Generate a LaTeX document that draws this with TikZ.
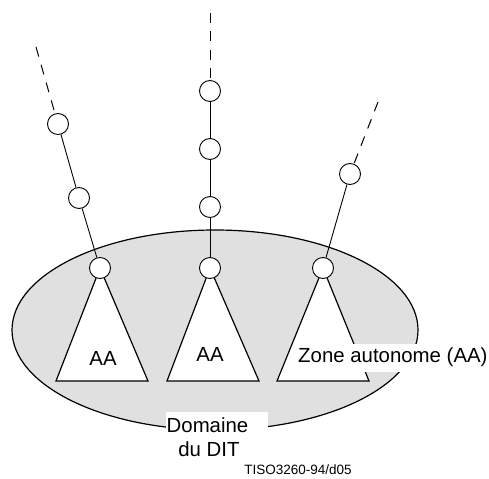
\documentclass[tikz,border=0pt]{standalone}
\usepackage{fontspec}
\setmainfont{Liberation Sans}
\definecolor{domainfill}{gray}{0.88}
\begin{document}
\begin{tikzpicture}[x=1bp,y=-1bp,
  vertex/.style={circle,draw,fill=white,line width=0.9bp,minimum size=21bp,inner sep=0pt},
  link/.style={line width=0.9bp},
  open/.style={line width=1bp,dash pattern=on 10bp off 8.5bp},
  area/.style={draw,fill=white,line width=1.2bp,line join=miter},
  lbl/.style={font=\fontsize{20.4bp}{24bp}\selectfont,inner sep=0pt}]
\useasboundingbox (0,0) rectangle (489,479);

% DIT domain
\draw[fill=domainfill,line width=1.2bp] (215,330) ellipse [x radius=203, y radius=100];

% loose ends of the three branches
\coordinate (a0) at (36,47);
\coordinate (b0) at (210,13);
\coordinate (c0) at (378,102);

% autonomous areas (triangles under their root vertices)
\filldraw[area] (100,268) -- (56,381) -- (148,381) -- cycle;
\filldraw[area] (210,268) -- (167,381) -- (259,381) -- cycle;
\filldraw[area] (323,268) -- (277,381) -- (369,381) -- cycle;

% vertices
\node[vertex] (a1) at (58,124) {};
\node[vertex] (a2) at (79,198) {};
\node[vertex] (a3) at (100,268) {};
\node[vertex] (b1) at (210,91) {};
\node[vertex] (b2) at (210,149) {};
\node[vertex] (b3) at (210,207) {};
\node[vertex] (b4) at (210,268) {};
\node[vertex] (c1) at (350,174) {};
\node[vertex] (c2) at (323,268) {};

% connections
\draw[link] (a3) -- (a2) -- (a1);
\draw[open] (a0) -- (a1);
\draw[link] (b4) -- (b3) -- (b2) -- (b1);
\draw[open] (b0) -- (b1);
\draw[link] (c2) -- (c1);
\draw[open] (c0) -- (c1);

% labels
\node[lbl,anchor=base] (aa1) at (103,365) {AA};
\node[lbl,anchor=base] (aa2) at (210,361) {AA};
\fill[white] (295,344) rectangle (489,372);
\node[lbl,anchor=base west] (zone) at (298,362) {Zone autonome (AA)};
\fill[white] (166,412) rectangle (268,440);
\node[lbl,anchor=base] (dom1) at (207.5,432) {Domaine};
\node[lbl,anchor=base] (dom2) at (209,456) {du DIT};
\node[font=\fontsize{13.5bp}{16bp}\selectfont] (ref) at (298,470) {TISO3260-94/d05};
\end{tikzpicture}
\end{document}
